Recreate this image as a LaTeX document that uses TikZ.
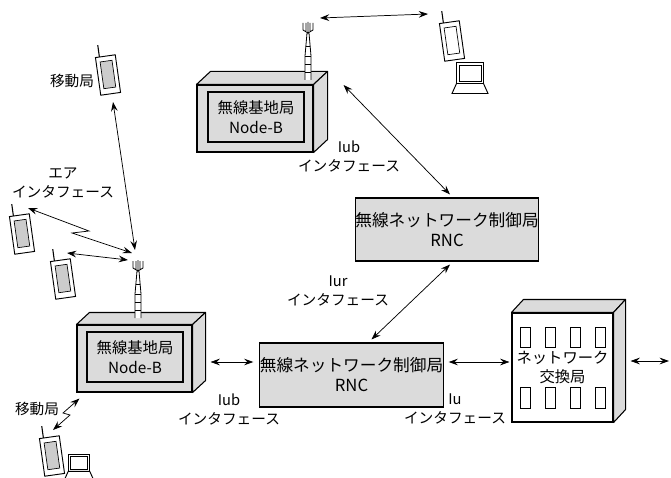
\documentclass[tikz,border=0pt]{standalone}
\usepackage{fontspec}
\setmainfont{Noto Sans CJK JP}
\usetikzlibrary{arrows.meta,calc}

\tikzset{
  stipple/.style={fill=black!14},
  box/.style={shape=rectangle,draw=black,line width=0.8pt,inner sep=0pt},
  side/.style={draw=black,line width=0.8pt,fill=black!14,line join=round},
  boxtext/.style={font=\fontsize{11.5}{14.5}\selectfont,align=center},
  rnctext/.style={font=\fontsize{12.5}{15}\selectfont,align=center},
  lbl/.style={font=\fontsize{11}{14.25}\selectfont,align=center,inner sep=0pt},
  link/.style={{Stealth[length=7pt,width=5pt,inset=2.5pt]}-{Stealth[length=7pt,width=5pt,inset=2.5pt]},line width=0.55pt},
  lcd/.style={fill=black!20},
  pics/phone/.style={code={
    \draw[line width=0.8pt] (-6,-19) -- (-6,-31);
    \draw[line width=0.7pt,fill=white] (-10,-19) rectangle (10,19);
    \draw[line width=0.5pt,lcd] (-6,-14) rectangle (6,13);
    \coordinate (-c) at (0,0);
  }},
  pics/laptop/.style={code={
    \draw[line width=0.7pt,fill=white] (-13.5,-10.5) rectangle (13.5,10.5);
    \draw[line width=0.5pt] (-11,-8) rectangle (11,8.5);
    \draw[line width=0.7pt,fill=white] (-13.5,10.5) -- (13.5,10.5) -- (18,20.5) -- (-18,20.5) -- cycle;
  }},
  pics/mast/.style={code={
    \draw[line width=0.6pt,fill=white] (-3,0) -- (-3,-24) -- (-1,-47) -- (1,-47) -- (3,-24) -- (3,0);
    \draw[line width=0.5pt] (-3,-8) -- (3,-8) (-3,-16) -- (3,-16) (-3,-24) -- (3,-24) (-2,-34) -- (2,-34);
    \draw[line width=0.6pt] (0,-47) -- (0,-58) (-5,-57) -- (-5,-50) -- (0,-47) -- (5,-50) -- (5,-57)
      (-2,-57) -- (-2,-49) (2,-57) -- (2,-49);
    \coordinate (-top) at (0,-52);
  }},
}

\begin{document}
\begin{tikzpicture}[x=0.75pt,y=-0.75pt]
\useasboundingbox (0,0) rectangle (671,478);

	\node[box,stipple,minimum width=87pt,minimum height=50.25pt] (nbA) at (255,118.5) {};
	\node[box,stipple,boxtext,minimum width=72pt,minimum height=37.5pt] (nbAin) at (256,117) {無線基地局\\Node-B};
	\draw[side] (nbA.north west) -- ++(14,-13) -- ($(nbA.north east)+(14,-13)$) -- (nbA.north east) -- cycle;
	\draw[side] (nbA.north east) -- ++(14,-13) -- ($(nbA.south east)+(14,-13)$) -- (nbA.south east) -- cycle;
	\pic (antA) at (308,80) {mast};

	\node[box,stipple,minimum width=86.25pt,minimum height=50.25pt] (nbB) at (134.5,358.5) {};
	\node[box,stipple,boxtext,minimum width=72pt,minimum height=37.5pt] (nbBin) at (135,357) {無線基地局\\Node-B};
	\draw[side] (nbB.north west) -- ++(13,-12) -- ($(nbB.north east)+(13,-12)$) -- (nbB.north east) -- cycle;
	\draw[side] (nbB.north east) -- ++(13,-12) -- ($(nbB.south east)+(13,-12)$) -- (nbB.south east) -- cycle;
	\pic (antB) at (138,318) {mast};

	\node[box,stipple,rnctext,minimum width=132pt,minimum height=47.25pt] (rncA) at (447,229.5) {無線ネットワーク制御局\\RNC};
	\node[box,stipple,rnctext,minimum width=132.75pt,minimum height=48pt] (rncB) at (351.5,375) {無線ネットワーク制御局\\RNC};

	\node[box,fill=white,boxtext,minimum width=75.75pt,minimum height=81.75pt] (sw) at (562.5,367.5) {ネットワーク\\交換局};
	\draw[side] (sw.north west) -- ++(12,-13) -- ($(sw.north east)+(12,-13)$) -- (sw.north east) -- cycle;
	\draw[side] (sw.north east) -- ++(12,-13) -- ($(sw.south east)+(12,-13)$) -- (sw.south east) -- cycle;
	\foreach \wx in {525,550,575,600} {
		\draw[line width=0.7pt] ({\wx-5},327) rectangle ++(10,20);
		\draw[line width=0.7pt] ({\wx-5},387) rectangle ++(10,21);
	}

	\pic[rotate=8] (ms1) at (108,75) {phone};
	\pic[rotate=8] (ms2) at (22,234) {phone};
	\pic[rotate=8] (ms3) at (63,279) {phone};
	\pic[rotate=8,lcd/.style={fill=white}] (ms4) at (452,41) {phone};
	\pic[rotate=8] (ms5) at (52,456) {phone};
	\pic (pcA) at (470,73) {laptop};
	\pic[scale=0.8] (pcB) at (79,463) {laptop};

	\node[lbl] (msLblA) at (72,81) {移動局};
	\node[lbl] (airLbl) at (63,183) {エア\\インタフェース};
	\node[lbl] (iubLblA) at (349,156.5) {Iub\\インタフェース};
	\node[lbl] (iurLbl) at (338,291) {Iur\\インタフェース};
	\node[lbl] (iubLblB) at (229,409) {Iub\\インタフェース};
	\node[lbl] (iuLbl) at (455,409) {Iu\\インタフェース};
	\node[lbl] (msLblB) at (37,409) {移動局};

	\coordinate (core) at (669,361);

	\path[link] ($(nbA.east)+(30,-33.5)$) edge ($(rncA.north)+(3,-3)$);
	\path[link] ($(rncA.south)+(3,3)$) edge ($(rncB.north)+(20,-3)$);
	\path[link] ($(nbB.east)+(18,3.5)$) edge ($(rncB.west)+(-6,-13)$);
	\path[link] ($(rncB.east)+(5,-13)$) edge ($(sw.west)+(-2,-5.5)$);
	\path[link] ($(sw.east)+(17,-6.5)$) edge (core);
	\path[link] ($(antA-top)+(12,-10)$) edge ($(ms4-c)+(-24,-27)$);
	\path[link] ($(ms1-c)+(5,27)$) edge ($(antB-top)+(-3,-16)$);
	\draw[link] ($(ms2-c)+(6,-26)$) -- (89,231) -- (72,233) -- ($(antB-top)+(-6,-13)$);
	\path[link] ($(ms3-c)+(4,-26)$) edge ($(antB-top)+(-10,-6)$);
	\draw[link] ($(ms5-c)+(1,-26)$) -- (70,415) -- (63,413) -- ($(nbB.south west)+(3,6)$);
\end{tikzpicture}
\end{document}
